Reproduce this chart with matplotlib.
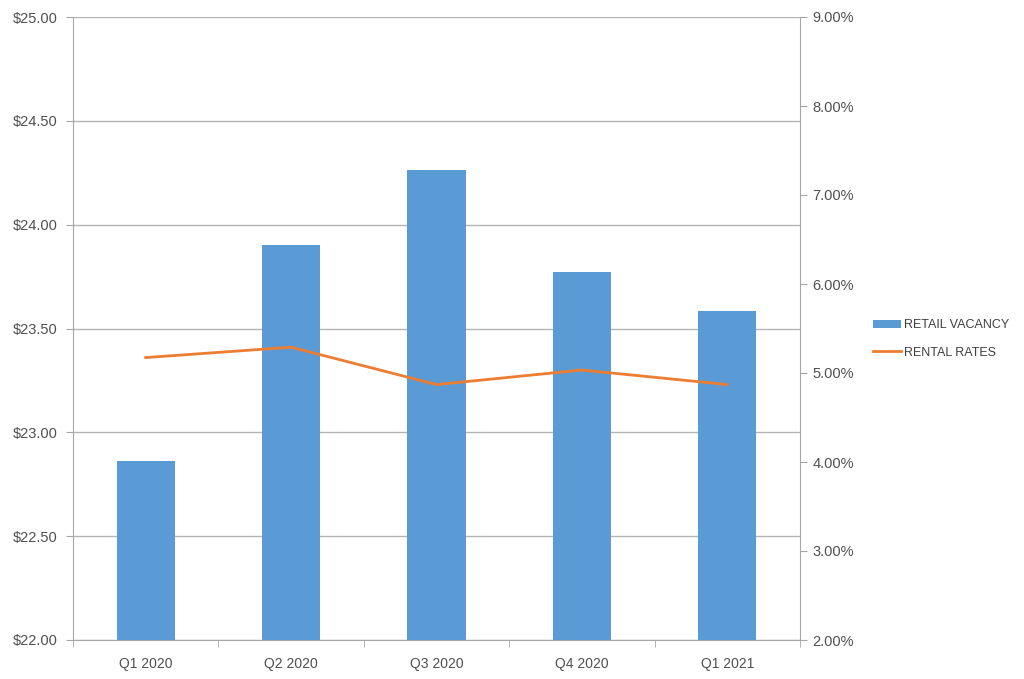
import numpy as np
import matplotlib.pyplot as plt
from matplotlib.ticker import FuncFormatter, FixedLocator

quarters = ['Q1 2020', 'Q2 2020', 'Q3 2020', 'Q4 2020', 'Q1 2021']
vacancy = [4.01, 6.44, 7.28, 6.13, 5.70]        # % (right axis)
rental = [23.36, 23.41, 23.23, 23.30, 23.23]    # $ (left axis)

plt.rcParams['font.family'] = ['Liberation Sans', 'DejaVu Sans']
txt = '#505050'
axc = '#a6a6a6'

fig = plt.figure(figsize=(10.24, 6.79), dpi=100)
rect = [73 / 1024, 39 / 679, 727 / 1024, 623 / 679]
ax = fig.add_axes(rect)
x = np.arange(len(quarters))

# left ($) axis with grid
ax.set_ylim(22, 25)
ax.set_yticks(np.arange(22, 25.01, 0.5))
ax.yaxis.set_major_formatter(FuncFormatter(lambda v, p: '${:.2f}'.format(v)))
ax.grid(axis='y', color='#b4b4b4', linewidth=1)
ax.set_xlim(-0.5, len(quarters) - 0.5)
ax.set_xticks(x)
ax.set_xticklabels(quarters)
ax.xaxis.set_minor_locator(FixedLocator(np.arange(-0.5, len(quarters), 1)))
ax.tick_params(axis='x', which='major', length=0, pad=12, labelsize=10, labelcolor=txt)
ax.tick_params(axis='x', which='minor', length=5, color=axc)
ax.tick_params(axis='y', length=5, color=axc, labelsize=10.5, labelcolor=txt, pad=6)
for s in ['top', 'right']:
    ax.spines[s].set_visible(False)
for s in ['left', 'bottom']:
    ax.spines[s].set_color(axc)

# bars on right (%) axis
axb = ax.twinx()
bars = axb.bar(x, vacancy, width=0.4, color='#5b9bd5', label='RETAIL VACANCY')
axb.set_ylim(2, 9)
axb.set_yticks(np.arange(2, 9.01, 1))
axb.yaxis.set_major_formatter(FuncFormatter(lambda v, p: '{:.2f}%'.format(v)))
axb.tick_params(axis='y', length=5, color=axc, labelsize=10.5, labelcolor=txt, pad=4)
for s in ['top', 'left', 'bottom']:
    axb.spines[s].set_visible(False)
axb.spines['right'].set_color(axc)

# line on $ scale, drawn on top
axl = ax.twinx()
line, = axl.plot(x, rental, color='#ed7d31', linewidth=2, label='RENTAL RATES')
axl.set_ylim(ax.get_ylim())
axl.axis('off')

fig.legend([bars, line], ['RETAIL VACANCY', 'RENTAL RATES'], loc='center left',
           bbox_to_anchor=(862 / 1024, 1 - 339 / 679), frameon=False, fontsize=9,
           labelcolor='#404040', handlelength=2.2, handleheight=0.6, handletextpad=0.3,
           labelspacing=1.2)

fig.savefig('out.png', dpi=100)
